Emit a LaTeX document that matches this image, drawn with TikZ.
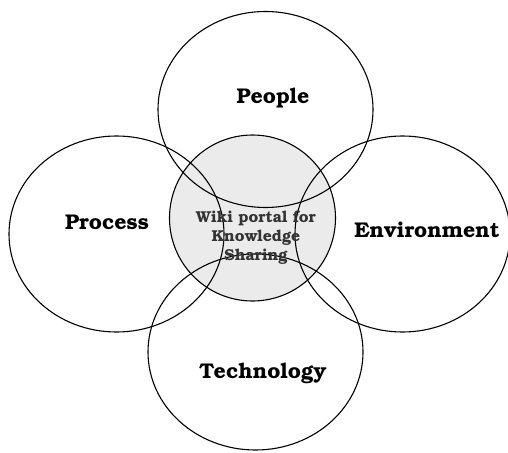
\documentclass[tikz,border=0pt]{standalone}
\usepackage[T1]{fontenc}
\usepackage{bookman}
\usetikzlibrary{shapes.geometric}
\definecolor{hubgray}{HTML}{EBEBEB}
\definecolor{hubtext}{HTML}{333333}
\tikzset{ring node/.style={ellipse,draw,line width=1.1pt,minimum width=215pt,minimum height=196pt, inner sep=0pt},}
\tikzset{hub node/.style={circle,draw,fill=hubgray,line width=1.1pt,minimum size=166pt, inner sep=0pt},}
\tikzset{ring text/.style={font=\fontsize{21.3}{24}\selectfont\bfseries},}

\begin{document}
\begin{tikzpicture}[x=1pt,y=-1pt]
          \useasboundingbox (0,0) rectangle (508,452);
          \node[hub node] (hub) at (252.5,218) {};
          \node[ring node] (people) at (265.5,109.5) {};
          \node[ring node] (process) at (116.5,234) {};
          \node[ring node] (env) at (402.5,234) {};
          \node[ring node] (tech) at (255.5,352) {};

          \node[ring text] (t1) at (273,98) {People};
          \node[ring text] (t2) at (107,222) {Process};
          \node[ring text] (t3) at (427,230) {Environment};
          \node[ring text] (t4) at (263,373) {Technology};
          \node[align=center,text=hubtext,font=\fontsize{15.8}{19}\selectfont\bfseries] (t0) at (256,237) {Wiki portal for\\Knowledge\\Sharing};
        \end{tikzpicture}
\end{document}
